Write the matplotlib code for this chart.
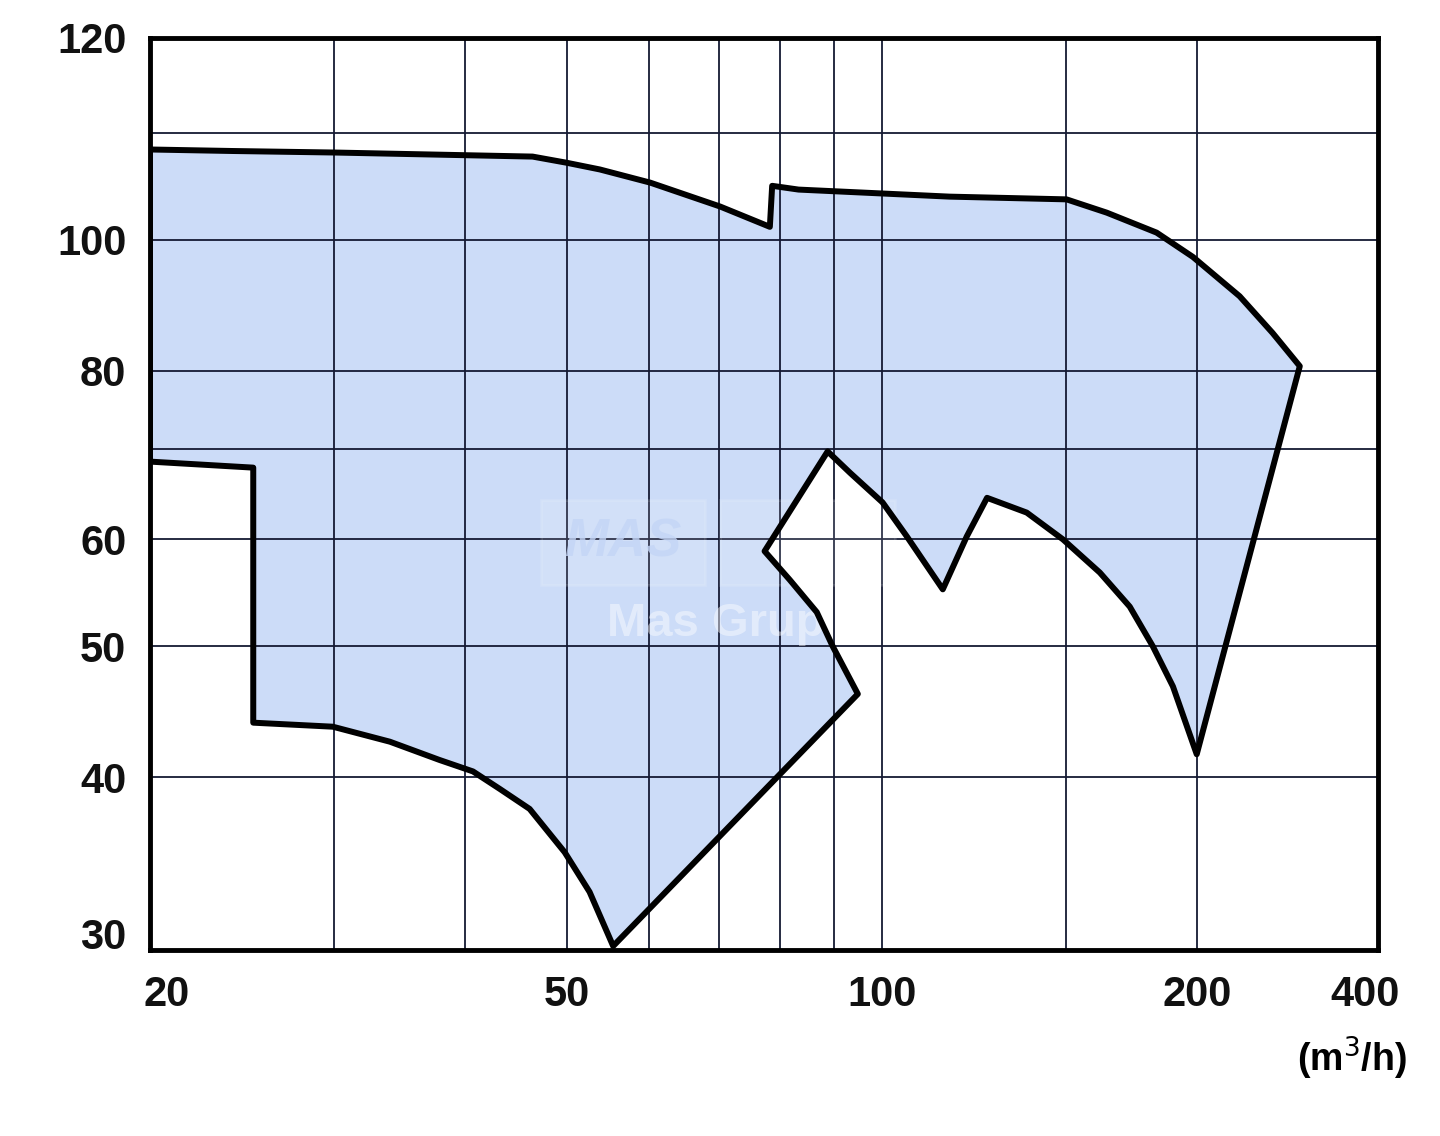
import matplotlib.pyplot as plt
import matplotlib.transforms as mtrans
from matplotlib.patches import Rectangle

# operating range outline (flow m3/h, head m), traced clockwise
flow = [20, 24.0, 30, 46.4, 50.0, 53.8, 60.1, 70.1, 78.2, 78.6, 83.3, 116.1,
        150.2, 164.1, 183.1, 198.3, 219.8, 236.3, 250.9,
        200, 189.8, 181.6, 172.6, 161.6, 149.0, 137.6, 126.1,
        120.6, 114.4, 105.7, 100.2, 93.3, 88.8,
        77.3, 81.7, 86.7, 89.8, 94.9,
        55.4, 52.6, 49.8, 46.1, 43.2, 40.7, 37.8, 33.9, 29.9, 25.1,
        25.1, 20]
head = [116.6, 116.3, 116.0, 115.2, 114.0, 112.7, 110.2, 105.8, 102.2, 109.6,
        108.9, 107.6,
        107.1, 104.7, 101.2, 97.1, 90.8, 85.3, 80.6,
        41.6, 46.7, 50.0, 53.5, 56.7, 60.0, 62.8, 64.4,
        60.3, 55.1, 60.3, 63.9, 67.2, 69.7,
        58.8, 56.0, 53.0, 50.0, 46.1,
        30.0, 32.9, 35.2, 37.9, 39.2, 40.4, 41.2, 42.5, 43.6, 43.9,
        67.8, 68.5]

x_grid = [30, 40, 50, 60, 70, 80, 90, 100, 150, 200]
y_grid = [40, 50, 60, 70, 80, 100, 120]

x_ticks = [20, 50, 100, 200, 298]
x_labels = ["20", "50", "100", "200", "400"]
y_ticks = [30, 40, 50, 60, 80, 100, 141]
y_labels = ["30", "40", "50", "60", "80", "100", "120"]

plt.rcParams['font.family'] = ['Liberation Sans', 'DejaVu Sans']

fig = plt.figure(figsize=(14.4, 11.36), dpi=100)
ax = fig.add_axes([150 / 1440, 186 / 1136, 1228 / 1440, 912 / 1136])
ax.set_xscale('log')
ax.set_yscale('log')
ax.set_xlim(20, 298)
ax.set_ylim(29.8, 141)

ax.fill(flow, head, color='#ccdcf8', lw=0, zorder=1)
for v in x_grid:
    ax.axvline(v, color='#151a33', lw=1.3, zorder=2)
for v in y_grid:
    ax.axhline(v, color='#151a33', lw=1.3, zorder=2)
ax.fill(flow, head, facecolor='none', edgecolor='black', lw=4.3,
        joinstyle='round', zorder=3)

# faint watermark
for x0, w in [(0.318, 0.134), (0.464, 0.143)]:
    ax.add_patch(Rectangle((x0, 0.400), w, 0.093, transform=ax.transAxes,
                           facecolor='white', edgecolor='white', alpha=0.12,
                           lw=2, zorder=2.4))
ax.text(0.385, 0.447, "MAS", transform=ax.transAxes, ha='center', va='center',
        fontsize=38, fontweight='bold', style='italic', color='#c3d5f6',
        alpha=0.8, zorder=2.5)
ax.text(0.461, 0.357, "Mas Grup", transform=ax.transAxes, ha='center',
        va='center', fontsize=34, fontweight='bold', color='white',
        alpha=0.45, zorder=2.5)

ax.minorticks_off()
ax.set_xticks(x_ticks)
ax.set_xticklabels(x_labels)
ax.set_yticks(y_ticks)
ax.set_yticklabels(y_labels)
ax.tick_params(length=0, labelsize=30, colors='#111111')
ax.tick_params(axis='x', pad=18)
ax.tick_params(axis='y', pad=17)
for lab in ax.get_xticklabels() + ax.get_yticklabels():
    lab.set_fontweight('bold')

# small nudges of the end labels as in the original sheet
xl = ax.get_xticklabels()
xl[0].set_transform(xl[0].get_transform() +
                    mtrans.ScaledTranslation(17 / 100, 0, fig.dpi_scale_trans))
xl[-1].set_transform(xl[-1].get_transform() +
                     mtrans.ScaledTranslation(-13 / 100, 0, fig.dpi_scale_trans))
yl = ax.get_yticklabels()
yl[0].set_transform(yl[0].get_transform() +
                    mtrans.ScaledTranslation(0, 13 / 100, fig.dpi_scale_trans))

for s in ax.spines.values():
    s.set_linewidth(3.5)
    s.set_color('black')

fig.text(1352 / 1440, 1 - 1058 / 1136, "(m$^3$/h)", ha='center', va='center',
         fontsize=27, fontweight='bold')

fig.savefig("out.png", dpi=100)
